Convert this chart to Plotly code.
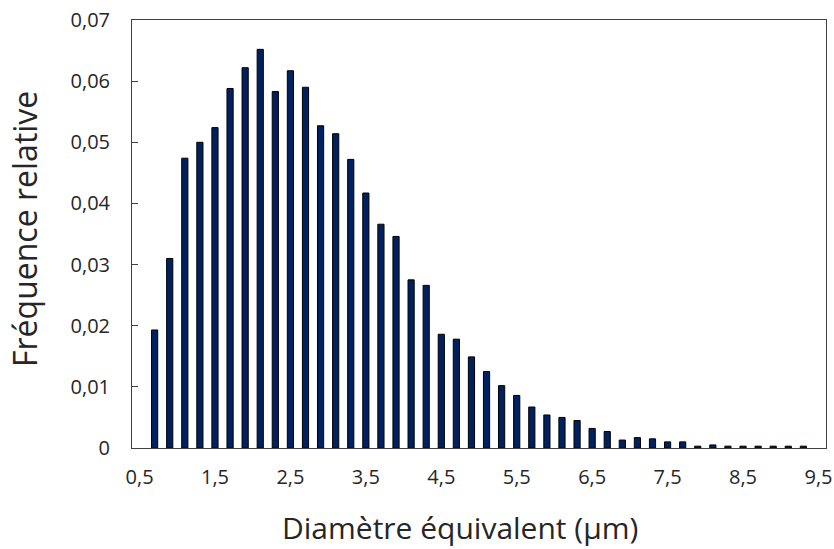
import plotly.graph_objects as go

# diameter classes (µm), step 0.2 - classes 0,5 and 9,5 are empty
diametres = [round(0.7 + 0.2 * i, 1) for i in range(44)]
frequences = [
    0.0193, 0.0310, 0.0474, 0.0500, 0.0524, 0.0588, 0.0622, 0.0652, 0.0583,
    0.0617, 0.0590, 0.0527, 0.0514, 0.0472, 0.0417, 0.0366, 0.0346, 0.0275, 0.0266,
    0.0186, 0.0178, 0.0149, 0.0125, 0.0102, 0.0086, 0.0067, 0.0054, 0.0050, 0.0045,
    0.0032, 0.0027, 0.0013, 0.0017, 0.0015, 0.0010, 0.0010, 0.0003, 0.0005, 0.0003,
    0.0003, 0.0003, 0.0003, 0.0003, 0.0003,
]

x_ticks = [0.5, 1.5, 2.5, 3.5, 4.5, 5.5, 6.5, 7.5, 8.5, 9.5]
x_tick_labels = ["0,5", "1,5", "2,5", "3,5", "4,5", "5,5", "6,5", "7,5", "8,5", "9,5"]
y_ticks = [0, 0.01, 0.02, 0.03, 0.04, 0.05, 0.06, 0.07]
y_tick_labels = ["0", "0,01", "0,02", "0,03", "0,04", "0,05", "0,06", "0,07"]

FONT = "'Open Sans', sans-serif"
AXIS_COLOR = "#404040"
TEXT_COLOR = "#262626"

fig = go.Figure()
fig.add_trace(go.Bar(
    x=diametres, y=frequences,
    marker=dict(color="#002060", line=dict(color="#000000", width=1)),
    width=0.082,
))

fig.update_layout(
    width=834, height=549,
    margin=dict(l=132, r=8, t=20, b=101),
    paper_bgcolor="white", plot_bgcolor="white",
    showlegend=False,
    font=dict(family=FONT, color=TEXT_COLOR),
    annotations=[
        dict(text="Diamètre équivalent (µm)", xref="paper", yref="paper",
             x=0.472, y=-0.186, xanchor="center", yanchor="middle",
             showarrow=False, font=dict(size=30, color=TEXT_COLOR)),
        dict(text="Fréquence relative", xref="paper", yref="paper",
             x=-0.154, y=0.512, xanchor="center", yanchor="middle", textangle=-90,
             showarrow=False, font=dict(size=32, color=TEXT_COLOR)),
    ],
)
fig.update_xaxes(
    range=[0.4, 9.6], automargin=False,
    tickvals=x_ticks, ticktext=x_tick_labels,
    tickfont=dict(size=20, color=TEXT_COLOR),
    ticks="", ticklabelstandoff=11, ticklabeloverflow="allow",
    showline=True, linecolor=AXIS_COLOR, linewidth=1, mirror=True,
    showgrid=False, zeroline=False,
)
fig.update_yaxes(
    range=[0, 0.07], automargin=False,
    tickvals=y_ticks, ticktext=y_tick_labels,
    tickfont=dict(size=20, color=TEXT_COLOR),
    ticks="inside", ticklen=6, tickcolor=AXIS_COLOR,
    ticklabelstandoff=17, ticklabeloverflow="allow",
    showline=True, linecolor=AXIS_COLOR, linewidth=1, mirror=True,
    showgrid=False, zeroline=False,
)

# drop the default 8px body margin so the figure fills the window exactly
fig.write_html(
    "out.html",
    config={"displayModeBar": False},
    post_script="document.body.style.margin='0';document.body.style.overflow='hidden';",
)
